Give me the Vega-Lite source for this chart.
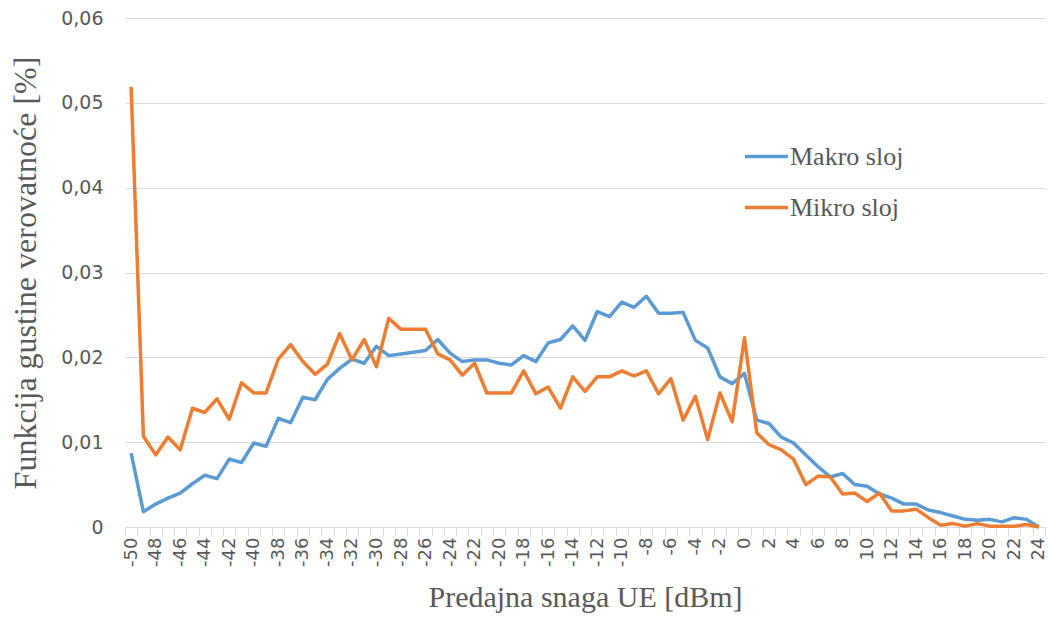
{
  "$schema": "https://vega.github.io/schema/vega-lite/v6.json",
  "autosize": "none",
  "width": 920,
  "height": 509,
  "padding": {"left": 125, "top": 18, "right": 3, "bottom": 94},
  "background": "white",
  "config": {"view": {"stroke": null}},
  "data": {"values": [
    {"x": -50, "Makro sloj": 0.0087, "Mikro sloj": 0.0519},
    {"x": -49, "Makro sloj": 0.0018, "Mikro sloj": 0.0107},
    {"x": -48, "Makro sloj": 0.0027, "Mikro sloj": 0.0085},
    {"x": -47, "Makro sloj": 0.0034, "Mikro sloj": 0.0106},
    {"x": -46, "Makro sloj": 0.0040, "Mikro sloj": 0.0091},
    {"x": -45, "Makro sloj": 0.0051, "Mikro sloj": 0.0140},
    {"x": -44, "Makro sloj": 0.0061, "Mikro sloj": 0.0135},
    {"x": -43, "Makro sloj": 0.0057, "Mikro sloj": 0.0151},
    {"x": -42, "Makro sloj": 0.0080, "Mikro sloj": 0.0127},
    {"x": -41, "Makro sloj": 0.0076, "Mikro sloj": 0.0170},
    {"x": -40, "Makro sloj": 0.0099, "Mikro sloj": 0.0158},
    {"x": -39, "Makro sloj": 0.0095, "Mikro sloj": 0.0158},
    {"x": -38, "Makro sloj": 0.0128, "Mikro sloj": 0.0198},
    {"x": -37, "Makro sloj": 0.0123, "Mikro sloj": 0.0215},
    {"x": -36, "Makro sloj": 0.0153, "Mikro sloj": 0.0195},
    {"x": -35, "Makro sloj": 0.0150, "Mikro sloj": 0.0180},
    {"x": -34, "Makro sloj": 0.0174, "Mikro sloj": 0.0192},
    {"x": -33, "Makro sloj": 0.0187, "Mikro sloj": 0.0228},
    {"x": -32, "Makro sloj": 0.0198, "Mikro sloj": 0.0197},
    {"x": -31, "Makro sloj": 0.0193, "Mikro sloj": 0.0221},
    {"x": -30, "Makro sloj": 0.0213, "Mikro sloj": 0.0189},
    {"x": -29, "Makro sloj": 0.0202, "Mikro sloj": 0.0246},
    {"x": -28, "Makro sloj": 0.0204, "Mikro sloj": 0.0233},
    {"x": -27, "Makro sloj": 0.0206, "Mikro sloj": 0.0233},
    {"x": -26, "Makro sloj": 0.0208, "Mikro sloj": 0.0233},
    {"x": -25, "Makro sloj": 0.0221, "Mikro sloj": 0.0204},
    {"x": -24, "Makro sloj": 0.0205, "Mikro sloj": 0.0197},
    {"x": -23, "Makro sloj": 0.0195, "Mikro sloj": 0.0179},
    {"x": -22, "Makro sloj": 0.0197, "Mikro sloj": 0.0193},
    {"x": -21, "Makro sloj": 0.0197, "Mikro sloj": 0.0158},
    {"x": -20, "Makro sloj": 0.0193, "Mikro sloj": 0.0158},
    {"x": -19, "Makro sloj": 0.0191, "Mikro sloj": 0.0158},
    {"x": -18, "Makro sloj": 0.0202, "Mikro sloj": 0.0184},
    {"x": -17, "Makro sloj": 0.0195, "Mikro sloj": 0.0157},
    {"x": -16, "Makro sloj": 0.0217, "Mikro sloj": 0.0165},
    {"x": -15, "Makro sloj": 0.0221, "Mikro sloj": 0.0140},
    {"x": -14, "Makro sloj": 0.0237, "Mikro sloj": 0.0177},
    {"x": -13, "Makro sloj": 0.0220, "Mikro sloj": 0.0160},
    {"x": -12, "Makro sloj": 0.0254, "Mikro sloj": 0.0177},
    {"x": -11, "Makro sloj": 0.0248, "Mikro sloj": 0.0177},
    {"x": -10, "Makro sloj": 0.0265, "Mikro sloj": 0.0184},
    {"x": -9, "Makro sloj": 0.0259, "Mikro sloj": 0.0178},
    {"x": -8, "Makro sloj": 0.0272, "Mikro sloj": 0.0184},
    {"x": -7, "Makro sloj": 0.0252, "Mikro sloj": 0.0157},
    {"x": -6, "Makro sloj": 0.0252, "Mikro sloj": 0.0175},
    {"x": -5, "Makro sloj": 0.0253, "Mikro sloj": 0.0126},
    {"x": -4, "Makro sloj": 0.0220, "Mikro sloj": 0.0154},
    {"x": -3, "Makro sloj": 0.0211, "Mikro sloj": 0.0103},
    {"x": -2, "Makro sloj": 0.0177, "Mikro sloj": 0.0158},
    {"x": -1, "Makro sloj": 0.0169, "Mikro sloj": 0.0124},
    {"x": 0, "Makro sloj": 0.0181, "Mikro sloj": 0.0223},
    {"x": 1, "Makro sloj": 0.0126, "Mikro sloj": 0.0111},
    {"x": 2, "Makro sloj": 0.0122, "Mikro sloj": 0.0097},
    {"x": 3, "Makro sloj": 0.0106, "Mikro sloj": 0.0091},
    {"x": 4, "Makro sloj": 0.0099, "Mikro sloj": 0.0080},
    {"x": 5, "Makro sloj": 0.0085, "Mikro sloj": 0.0050},
    {"x": 6, "Makro sloj": 0.0071, "Mikro sloj": 0.0060},
    {"x": 7, "Makro sloj": 0.0059, "Mikro sloj": 0.0059},
    {"x": 8, "Makro sloj": 0.0063, "Mikro sloj": 0.0039},
    {"x": 9, "Makro sloj": 0.0050, "Mikro sloj": 0.0040},
    {"x": 10, "Makro sloj": 0.0048, "Mikro sloj": 0.0030},
    {"x": 11, "Makro sloj": 0.0039, "Mikro sloj": 0.0040},
    {"x": 12, "Makro sloj": 0.0034, "Mikro sloj": 0.0019},
    {"x": 13, "Makro sloj": 0.0027, "Mikro sloj": 0.0019},
    {"x": 14, "Makro sloj": 0.0027, "Mikro sloj": 0.0021},
    {"x": 15, "Makro sloj": 0.0020, "Mikro sloj": 0.0011},
    {"x": 16, "Makro sloj": 0.0017, "Mikro sloj": 0.0002},
    {"x": 17, "Makro sloj": 0.0013, "Mikro sloj": 0.0004},
    {"x": 18, "Makro sloj": 0.0009, "Mikro sloj": 0.0001},
    {"x": 19, "Makro sloj": 0.0008, "Mikro sloj": 0.0004},
    {"x": 20, "Makro sloj": 0.0009, "Mikro sloj": 0.0001},
    {"x": 21, "Makro sloj": 0.0006, "Mikro sloj": 0.0001},
    {"x": 22, "Makro sloj": 0.0011, "Mikro sloj": 0.0001},
    {"x": 23, "Makro sloj": 0.0009, "Mikro sloj": 0.0003},
    {"x": 24, "Makro sloj": 0.0000, "Mikro sloj": 0.0000}
  ]},
  "transform": [{"fold": ["Makro sloj", "Mikro sloj"], "as": ["serija", "v"]}],
  "mark": {"type": "line", "strokeWidth": 3.5, "strokeJoin": "round", "strokeCap": "butt"},
  "encoding": {
    "x": {
      "field": "x", "type": "ordinal", "bandPosition": 0.5,
      "scale": {"type": "band", "paddingInner": 0, "paddingOuter": 0},
      "axis": {
        "title": "Predajna snaga UE [dBm]",
        "titleFont": "Liberation Serif", "titleFontSize": 30, "titleFontWeight": "normal", "titleColor": "#595959", "titlePadding": 16,
        "labelExpr": "datum.value % 2 === 0 ? datum.label : ''",
        "labelAngle": 270, "labelFont": "DejaVu Sans", "labelFontSize": 18, "labelColor": "#595959", "labelPadding": 2,
        "tickBand": "extent", "tickSize": 8, "tickColor": "#d9d9d9", "tickWidth": 1,
        "domainColor": "#d9d9d9", "domainWidth": 1, "grid": false
      }
    },
    "y": {
      "field": "v", "type": "quantitative",
      "scale": {"domain": [0, 0.06], "nice": false},
      "axis": {
        "title": "Funkcija gustine verovatnoće [%]",
        "titleFont": "Liberation Serif", "titleFontSize": 32, "titleFontWeight": "normal", "titleColor": "#595959", "titlePadding": 18,
        "values": [0, 0.01, 0.02, 0.03, 0.04, 0.05, 0.06],
        "labelExpr": "datum.value === 0 ? '0' : replace(format(datum.value, '.2f'), '.', ',')",
        "labelFont": "DejaVu Sans", "labelFontSize": 19, "labelColor": "#595959", "labelPadding": 22,
        "ticks": false, "domain": false,
        "grid": true, "gridColor": "#d9d9d9", "gridWidth": 1
      }
    },
    "color": {
      "field": "serija", "type": "nominal",
      "scale": {"domain": ["Makro sloj", "Mikro sloj"], "range": ["#5B9BD5", "#ED7D31"]},
      "legend": {
        "title": null, "orient": "none", "legendX": 618, "legendY": 115, "padding": 0,
        "symbolType": "stroke", "symbolSize": 1849, "symbolStrokeWidth": 3.5,
        "labelFont": "Liberation Serif", "labelFontSize": 26, "labelColor": "#595959", "labelOffset": 0,
        "rowPadding": 14
      }
    }
  }
}
